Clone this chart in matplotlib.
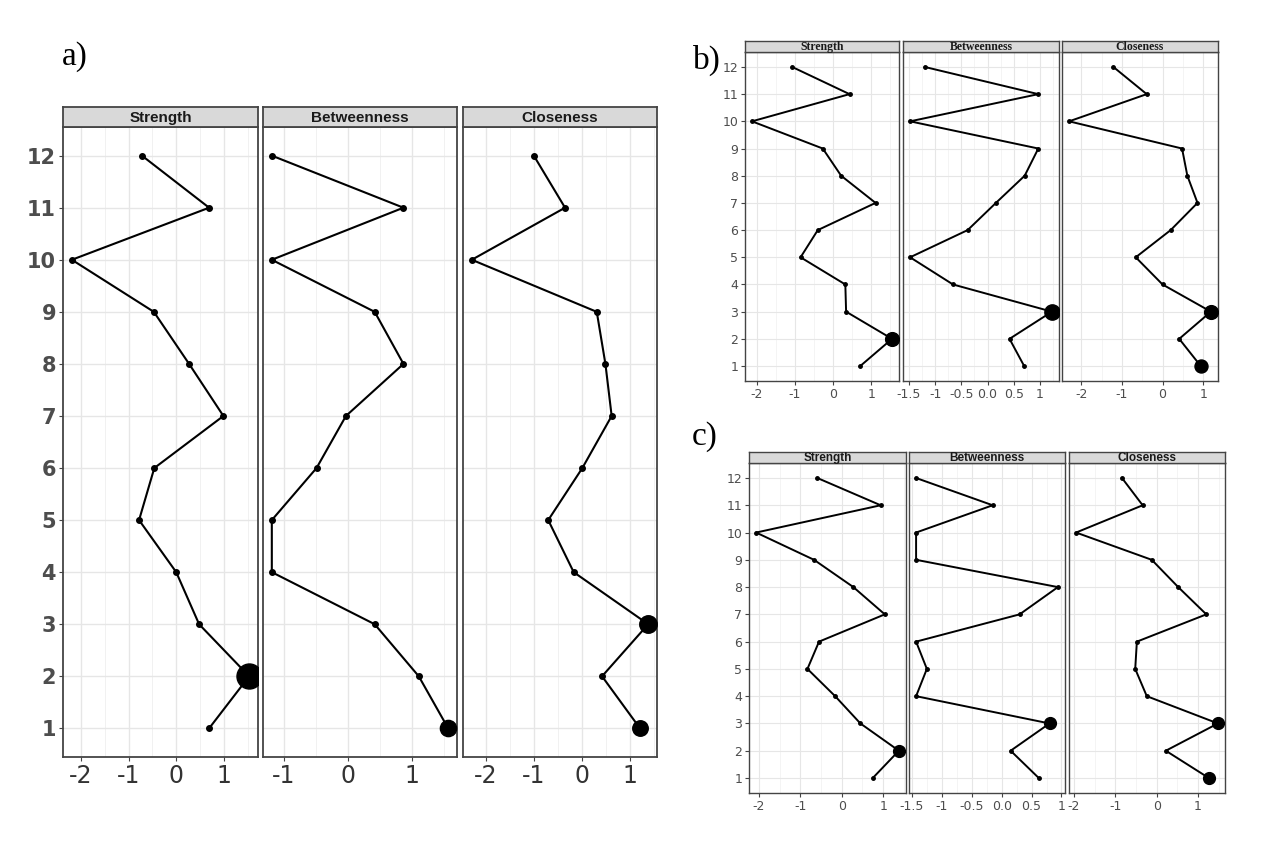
import matplotlib.pyplot as plt
import numpy as np

plt.rcParams['axes.unicode_minus'] = False

# item numbers on the y axis
items = list(range(1, 13))
facets = ['Strength', 'Betweenness', 'Closeness']

# a) centrality z-scores, item 1..12
a_strength = [0.69, 1.53, 0.48, 0.00, -0.78, -0.46, 0.99, 0.27, -0.47, -2.19, 0.69, -0.72]
a_betweenness = [1.57, 1.11, 0.42, -1.19, -1.19, -0.49, -0.03, 0.87, 0.42, -1.19, 0.87, -1.19]
a_closeness = [1.21, 0.42, 1.38, -0.17, -0.70, 0.01, 0.62, 0.49, 0.31, -2.29, -0.35, -1.00]

# b)
b_strength = [0.71, 1.54, 0.34, 0.32, -0.85, -0.40, 1.11, 0.21, -0.27, -2.12, 0.43, -1.07]
b_betweenness = [0.70, 0.42, 1.23, -0.66, -1.48, -0.38, 0.16, 0.71, 0.97, -1.48, 0.97, -1.20]
b_closeness = [0.94, 0.41, 1.19, 0.00, -0.66, 0.20, 0.86, 0.61, 0.48, -2.30, -0.39, -1.21]

# c)
c_strength = [0.75, 1.38, 0.45, -0.16, -0.83, -0.55, 1.04, 0.28, -0.67, -2.07, 0.94, -0.59]
c_betweenness = [0.62, 0.15, 0.80, -1.43, -1.25, -1.43, 0.30, 0.94, -1.43, -1.43, -0.15, -1.43]
c_closeness = [1.26, 0.22, 1.48, -0.24, -0.52, -0.48, 1.20, 0.52, -0.12, -1.95, -0.34, -0.84]

# items drawn with an enlarged dot (item number -> relative size)
a_big = [{2: 1.0}, {1: 0.65}, {3: 0.7, 1: 0.62}]
b_big = [{2: 0.9}, {3: 1.0}, {3: 0.9, 1: 0.85}]
c_big = [{2: 1.0}, {3: 1.0}, {3: 1.0, 1: 1.0}]

# x tick labels per facet
a_xticks = [['-2', '-1', '0', '1'], ['-1', '0', '1'], ['-2', '-1', '0', '1']]
b_xticks = [['-2', '-1', '0', '1'], ['-1.5', '-1', '-0.5', '0.0', '0.5', '1'], ['-2', '-1', '0', '1']]
c_xticks = [['-2', '-1', '0', '1'], ['-1.5', '-1', '-0.5', '0.0', '0.5', '1'], ['-2', '-1', '0', '1']]

W, H = 1288, 850
fig = plt.figure(figsize=(W / 100, H / 100), dpi=100)


def px_axes(l, t, r, b):
    return fig.add_axes([l / W, 1 - b / H, (r - l) / W, (b - t) / H])


def draw_group(series, bigs, xticks, boxes, top, bottom, strip_top, st):
    for i, (vals, big, labels, (l, r)) in enumerate(zip(series, bigs, xticks, boxes)):
        ax = px_axes(l, top, r, bottom)
        vals = np.array(vals)
        ticks = [float(t) for t in labels]
        ax.set_xticks(ticks)
        ax.set_xticklabels(labels)
        step = ticks[1] - ticks[0]
        ax.set_xticks(np.arange(ticks[0] - step, ticks[-1] + 2 * step, step / 2), minor=True)
        ax.set_yticks(items)
        # ggplot-style 5% expansion, set after the ticks so they do not widen it
        span = vals.max() - vals.min()
        ax.set_xlim(vals.min() - 0.05 * span, vals.max() + 0.05 * span)
        ax.set_ylim(0.45, 12.55)
        ax.grid(True, which='major', color='#e6e6e6', lw=st['grid'])
        ax.grid(True, which='minor', axis='x', color='#efefef', lw=st['grid'] * 0.6)
        ax.set_axisbelow(True)
        for s in ax.spines.values():
            s.set_color('#444444')
            s.set_linewidth(st['spine'])
        ax.plot(vals, items, color='black', lw=st['lw'], marker='o', ms=st['ms'], zorder=3)
        for item, rel in big.items():
            ax.plot(vals[item - 1], item, 'o', color='black', ms=st['big'] * rel, zorder=4)
        ax.tick_params(axis='x', which='minor', length=0)
        ax.tick_params(axis='x', which='major', length=3, color='#444444',
                       labelsize=st['xsize'], labelcolor=st['xcolor'], pad=2)
        if i == 0:
            ax.tick_params(axis='y', length=3, color='#444444', labelsize=st['ysize'],
                           labelcolor='#4d4d4d', pad=2)
            for t in ax.get_yticklabels():
                t.set_fontweight(st['yweight'])
        else:
            ax.tick_params(axis='y', length=0, labelleft=False)
        sax = px_axes(l, strip_top, r, top)
        sax.set_facecolor('#d9d9d9')
        sax.set_xticks([])
        sax.set_yticks([])
        for s in sax.spines.values():
            s.set_color('#444444')
            s.set_linewidth(st['spine'])
        sax.text(0.5, 0.45, facets[i], ha='center', va='center', transform=sax.transAxes,
                 fontsize=st['strip'], fontweight='bold', family=st['stripfont'], color='#1a1a1a')


style_a = dict(grid=1.0, spine=1.3, lw=1.5, ms=4, big=18, xsize=17, xcolor='#333333',
               ysize=15, yweight='bold', strip=11, stripfont='Liberation Sans')
style_b = dict(grid=0.8, spine=1.0, lw=1.4, ms=2.5, big=11, xsize=9, xcolor='#4d4d4d',
               ysize=9, yweight='normal', strip=8.5, stripfont='Liberation Serif')
style_c = dict(grid=0.8, spine=1.0, lw=1.4, ms=2.5, big=8.5, xsize=9, xcolor='#4d4d4d',
               ysize=9, yweight='normal', strip=8.5, stripfont='Liberation Sans')

draw_group([a_strength, a_betweenness, a_closeness], a_big, a_xticks,
           [(63, 258), (263, 457), (463, 657)], 127, 757, 107, style_a)
draw_group([b_strength, b_betweenness, b_closeness], b_big, b_xticks,
           [(745, 899), (903, 1059), (1062, 1218)], 52, 381, 41, style_b)
draw_group([c_strength, c_betweenness, c_closeness], c_big, c_xticks,
           [(749, 906), (909, 1065), (1069, 1225)], 463, 793, 452, style_c)

fig.text(62 / W, 1 - 57 / H, 'a)', fontsize=24, family='Liberation Serif', va='center')
fig.text(693 / W, 1 - 60 / H, 'b)', fontsize=24, family='Liberation Serif', va='center')
fig.text(692 / W, 1 - 437 / H, 'c)', fontsize=24, family='Liberation Serif', va='center')

fig.savefig('out.png', dpi=100)
